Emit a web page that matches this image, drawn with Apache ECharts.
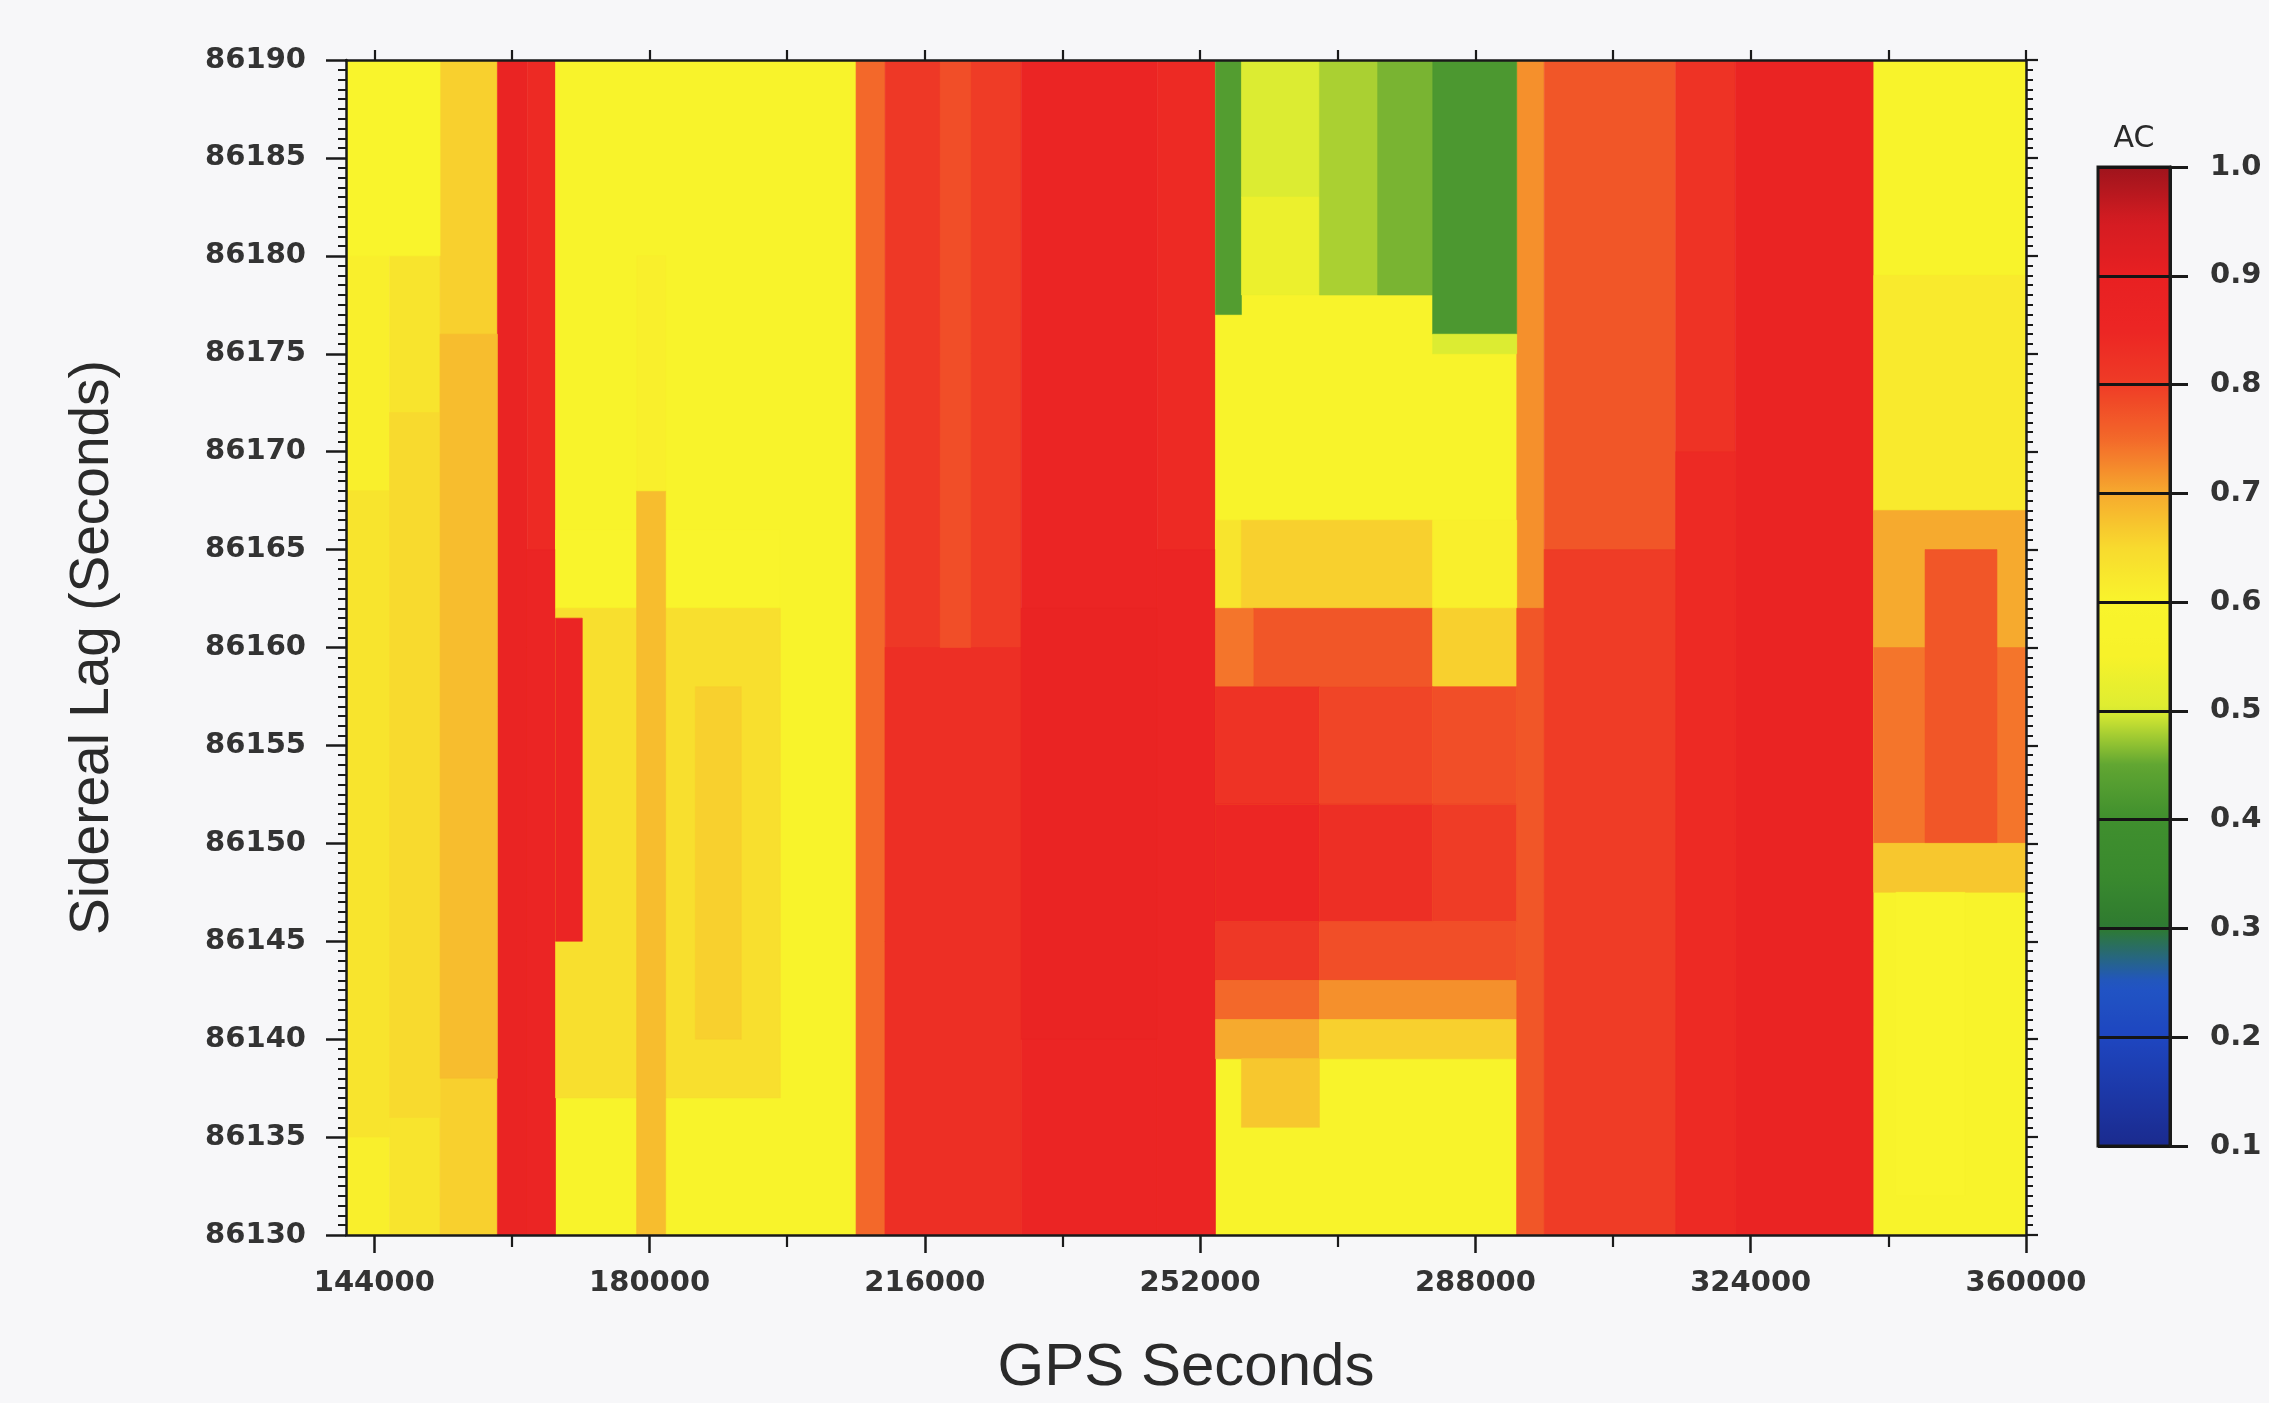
<!DOCTYPE html>
<html>
<head>
<meta charset="utf-8">
<script src="https://cdn.jsdelivr.net/npm/echarts@6/dist/echarts.min.js"></script>
<style>
html,body{margin:0;padding:0;background:#f7f7f9;}
#chart{width:2269px;height:1403px;}
</style>
</head>
<body>
<div id="chart"></div>
<script>
// ---------------- data ----------------
// Tick values
const gpsLabelTicks = [144000, 180000, 216000, 252000, 288000, 324000, 360000];
const gpsMinorTicks = [162000, 198000, 234000, 270000, 306000, 342000];
const gpsTopTicks = [144000, 162000, 180000, 198000, 216000, 234000, 252000, 270000, 288000, 306000, 324000, 342000, 360000];
const gpsRange = [140300, 360000];
const lagRange = [86130, 86190];
const acRange = [0.1, 1.0];

// Colour scale of AC (0.10 .. 1.00, every 0.05)
const acColors = ['#1b2a8e', '#1c38a8', '#1e46c0', '#2155c4', '#2e7a30', '#3a8a2e', '#3f8f2e',
  '#60a632', '#dcec32', '#f7f22a', '#f9f42c', '#f8da2e', '#f6aa2e', '#f3682a', '#ef3c26',
  '#ec2624', '#e82022', '#d41c22', '#9e141c'];

// Full-height columns: [gpsStart, gpsEnd, AC]
const bands = [
  [140300, 146000, 0.61], [146000, 152600, 0.63], [152600, 160100, 0.66],
  [160100, 164000, 0.87], [164000, 167700, 0.84], [167700, 207000, 0.57],
  [207000, 210800, 0.75], [210800, 218000, 0.81], [218000, 228600, 0.80],
  [228600, 246400, 0.86], [246400, 254000, 0.84], [254000, 293400, 0.58],
  [293400, 297000, 0.72], [297000, 314200, 0.77], [314200, 322000, 0.82],
  [322000, 340100, 0.87], [340100, 360000, 0.58]
];

// Patches: [gpsStart, gpsEnd, lagLow, lagHigh, AC]
const leftPatches = [
  [140300, 146000, 86135, 86168, 0.63], [146000, 152600, 86136, 86172, 0.65],
  [152600, 160100, 86138, 86176, 0.68], [140300, 152600, 86180, 86190, 0.59],
  [164000, 167700, 86130, 86165, 0.86]
];
const yellowPatches = [
  [167700, 197100, 86162, 86166, 0.60], [167700, 197100, 86137, 86162, 0.64],
  [178300, 182100, 86130, 86168, 0.68], [178300, 182100, 86168, 86180, 0.61],
  [186000, 192000, 86140, 86158, 0.66], [167700, 171200, 86145, 86161.5, 0.86]
];
const redPatches = [
  [210800, 228600, 86130, 86160, 0.83], [218000, 222000, 86160, 86190, 0.78],
  [228600, 246400, 86140, 86162, 0.87], [246400, 254000, 86130, 86165, 0.86]
];
const greenPatches = [
  [254000, 257400, 86177, 86190, 0.43], [257400, 267600, 86183, 86190, 0.50],
  [257400, 267600, 86178, 86183, 0.53], [267600, 275200, 86178, 86190, 0.48],
  [275200, 282400, 86178, 86190, 0.46], [282400, 293400, 86176, 86190, 0.42],
  [282400, 293400, 86175, 86176, 0.50]
];
const middlePatches = [
  [254000, 257400, 86162, 86166.5, 0.63], [257400, 282400, 86162, 86166.5, 0.66], [282400, 293400, 86162, 86166.5, 0.61],
  [254000, 259000, 86158, 86162, 0.74], [259000, 282400, 86158, 86162, 0.77], [282400, 293400, 86158, 86162, 0.66],
  [254000, 267600, 86152, 86158, 0.82], [267600, 282400, 86152, 86158, 0.79], [282400, 293400, 86152, 86158, 0.78],
  [254000, 267600, 86146, 86152, 0.85], [267600, 282400, 86146, 86152, 0.83], [282400, 293400, 86146, 86152, 0.80],
  [254000, 267600, 86143, 86146, 0.81], [267600, 293400, 86143, 86146, 0.78],
  [254000, 267600, 86141, 86143, 0.75], [267600, 293400, 86141, 86143, 0.72],
  [254000, 267600, 86139, 86141, 0.70], [267600, 293400, 86139, 86141, 0.66],
  [257400, 267600, 86135.5, 86139, 0.67]
];
const rightPatches = [
  [293400, 297000, 86130, 86162, 0.77], [297000, 314200, 86130, 86165, 0.80],
  [314200, 322000, 86130, 86170, 0.84], [340100, 360000, 86167, 86179, 0.62],
  [340100, 360000, 86160, 86167, 0.70], [340100, 360000, 86150, 86160, 0.74],
  [346800, 356200, 86150, 86165, 0.77], [340100, 360000, 86147.5, 86150, 0.67],
  [343000, 352000, 86132, 86147.5, 0.60]
];

// ---------------- build series data ----------------
const cells = [];
bands.forEach(b => cells.push([b[0], b[1], lagRange[0], lagRange[1], b[2]]));
[leftPatches, yellowPatches, redPatches, greenPatches, middlePatches, rightPatches]
  .forEach(list => list.forEach(p => cells.push(p.slice())));

const AXIS = '#1a1a1a';
const LABEL = '#333333';
const tickFont = {fontFamily: 'DejaVu Sans', fontWeight: 'bold', fontSize: 29, color: LABEL};
const plain = v => String(v);

function renderCell(params, api) {
  const a = api.coord([api.value(0), api.value(3)]);
  const b = api.coord([api.value(1), api.value(2)]);
  const c = api.visual('color');
  return {
    type: 'rect',
    shape: {x: a[0], y: a[1], width: b[0] - a[0], height: b[1] - a[1]},
    style: {fill: c, stroke: c, lineWidth: 0.6}
  };
}

const chart = echarts.init(document.getElementById('chart'), null, {renderer: 'canvas'});
chart.setOption({
  animation: false,
  backgroundColor: '#f7f7f9',
  grid: [
    {left: 346, right: 243, top: 60, bottom: 168, outerBoundsMode: 'none', containLabel: false},
    {left: 2098, top: 167, width: 72, height: 979, outerBoundsMode: 'none', containLabel: false,
     show: true, borderColor: AXIS, borderWidth: 3, backgroundColor: 'rgba(0,0,0,0)', z: 6}
  ],
  xAxis: [
    {
      type: 'value', gridIndex: 0, position: 'bottom', min: gpsRange[0], max: gpsRange[1],
      axisLine: {show: true, onZero: false, lineStyle: {color: AXIS, width: 2.5}},
      axisTick: {show: true, customValues: gpsLabelTicks, length: 18, lineStyle: {color: AXIS, width: 2.5}},
      axisLabel: Object.assign({show: true, customValues: gpsLabelTicks, margin: 34, formatter: plain}, tickFont),
      splitLine: {show: false},
      name: 'GPS Seconds', nameLocation: 'middle', nameGap: 103, nameMoveOverlap: false,
      nameTextStyle: {fontFamily: 'Liberation Sans', fontSize: 60, color: '#2a2a2a'},
      z: 5
    },
    {
      type: 'value', gridIndex: 0, position: 'bottom', offset: 0, min: gpsRange[0], max: gpsRange[1],
      axisLine: {show: false, onZero: false},
      axisTick: {show: true, customValues: gpsMinorTicks, length: 12, lineStyle: {color: AXIS, width: 2.2}},
      axisLabel: {show: false}, splitLine: {show: false}, z: 5
    },
    {
      type: 'value', gridIndex: 0, position: 'top', min: gpsRange[0], max: gpsRange[1],
      axisLine: {show: true, onZero: false, lineStyle: {color: AXIS, width: 2.5}},
      axisTick: {show: true, customValues: gpsTopTicks, length: 10, lineStyle: {color: AXIS, width: 2.2}},
      axisLabel: {show: false}, splitLine: {show: false}, z: 5
    },
    {
      type: 'value', gridIndex: 1, position: 'top', min: 0, max: 1,
      axisLine: {show: false}, axisTick: {show: false}, axisLabel: {show: false}, splitLine: {show: false},
      name: 'AC', nameLocation: 'middle', nameGap: 13, nameMoveOverlap: false,
      nameTextStyle: {fontFamily: 'DejaVu Sans', fontSize: 30, color: '#2a2a2a'}
    }
  ],
  yAxis: [
    {
      type: 'value', gridIndex: 0, position: 'left', min: lagRange[0], max: lagRange[1], interval: 5,
      axisLine: {show: true, onZero: false, lineStyle: {color: AXIS, width: 2.5}},
      axisTick: {show: true, length: 20, lineStyle: {color: AXIS, width: 2.5}},
      minorTick: {show: true, splitNumber: 10, length: 8, lineStyle: {color: AXIS, width: 2}},
      axisLabel: Object.assign({show: true, margin: 40, formatter: plain}, tickFont),
      splitLine: {show: false}, minorSplitLine: {show: false},
      name: 'Sidereal Lag (Seconds)', nameLocation: 'middle', nameGap: 226, nameMoveOverlap: false,
      nameTextStyle: {fontFamily: 'Liberation Sans', fontSize: 55, color: '#2a2a2a'},
      z: 5
    },
    {
      type: 'value', gridIndex: 0, position: 'right', min: lagRange[0], max: lagRange[1], interval: 5,
      axisLine: {show: true, onZero: false, lineStyle: {color: AXIS, width: 2.5}},
      axisTick: {show: true, length: 12, lineStyle: {color: AXIS, width: 2.2}},
      minorTick: {show: true, splitNumber: 10, length: 7, lineStyle: {color: AXIS, width: 2}},
      axisLabel: {show: false}, splitLine: {show: false}, z: 5
    },
    {
      type: 'value', gridIndex: 1, position: 'right', min: acRange[0], max: acRange[1], interval: 0.1,
      axisLine: {show: true, onZero: false, lineStyle: {color: AXIS, width: 3}},
      axisTick: {show: true, length: 18, lineStyle: {color: AXIS, width: 3}},
      axisLabel: Object.assign({show: true, margin: 40, formatter: v => (+v).toFixed(1)}, tickFont),
      splitLine: {show: true, lineStyle: {color: '#151515', width: 3}},
      z: 6
    }
  ],
  visualMap: {
    type: 'continuous', min: acRange[0], max: acRange[1], dimension: 4, seriesIndex: 0,
    calculable: false, hoverLink: false, show: true, orient: 'vertical',
    left: 2098, top: 167, padding: 0, itemWidth: 72, itemHeight: 979,
    text: null, z: 4,
    inRange: {color: acColors}
  },
  series: [{
    type: 'custom', xAxisIndex: 0, yAxisIndex: 0, clip: true,
    encode: {x: [0, 1], y: [2, 3]},
    renderItem: renderCell,
    data: cells,
    silent: true
  }]
});
</script>
</body>
</html>
